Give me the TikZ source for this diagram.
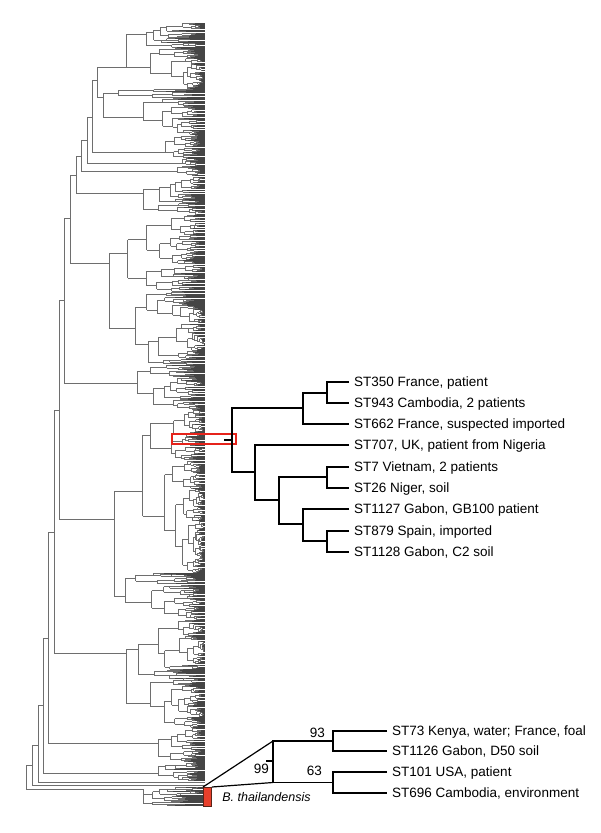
\documentclass[tikz,border=0pt]{standalone}
\usepackage{fontspec}
\setmainfont{Liberation Sans}
\usetikzlibrary{positioning, calc}
\definecolor{cgrey}{HTML}{6E6E6E}
\definecolor{cleaf}{HTML}{454545}
\definecolor{cred}{HTML}{E8402C}
\definecolor{credline}{HTML}{E5231B}
\definecolor{cdark}{HTML}{5A2418}
\tikzset{
  tree/.style={draw=cgrey, line width=0.8pt},
  leaf/.style={draw=cleaf, line width=0.8pt},
  branch/.style={draw=black, line width=1.4pt},
  leaflab/.style={anchor=west, inner xsep=5pt, inner ysep=0pt, text height=9.7pt, text depth=0pt, font=\fontsize{13.5}{16}\selectfont},
  boot/.style={inner sep=1pt, text height=9.7pt, text depth=0pt, font=\fontsize{13.5}{16}\selectfont},
  hbox/.style={draw=credline, line width=1.8pt, inner sep=0pt},
}
\def\leafx{205}
% random clade: x of node, y of stem, top and bottom of its leaves
\newcommand\clade[4]{%
  \begingroup
  \edef\kX{#1}\edef\kY{#2}\edef\kA{#3}\edef\kB{#4}%
  \pgfmathsetmacro\kL{\kB-\kA}%
  \ifdim\kL pt<2pt
    \draw[leaf] (\kX,\kY) -- (\leafx,\kY);
  \else
    \pgfmathsetmacro\kS{\kA+\kL*(0.12+0.76*rnd)}%
    \pgfmathsetmacro\kM{(\kA+\kS)/2}%
    \pgfmathsetmacro\kN{(\kS+\kB)/2}%
    \pgfmathsetmacro\kU{\kX+(\leafx-\kX)*(0.12+0.32*rnd)}%
    \pgfmathsetmacro\kV{\kX+(\leafx-\kX)*(0.12+0.32*rnd)}%
    \pgfmathsetmacro\kT{min(\kM,\kY)}%
    \pgfmathsetmacro\kW{max(\kN,\kY)}%
    \draw[tree] (\kX,\kT) -- (\kX,\kW);
    \draw[tree] (\kX,\kM) -- (\kU,\kM);
    \draw[tree] (\kX,\kN) -- (\kV,\kN);
    \clade{\kU}{\kM}{\kA}{\kS}%
    \clade{\kV}{\kN}{\kS}{\kB}%
  \fi
  \endgroup}

\begin{document}
\begin{tikzpicture}[x=1pt, y=-1pt]
  \useasboundingbox (0,0) rectangle (600,833);
  \pgfmathsetseed{12}

  % backbone of the big tree
  \foreach \ny/\ya/\yb/\nx in {67/67/97/97, 80/80/152/92, 117/117/163/87, 140/140/171/81,
      156/156/193/76, 175/175/263/70, 218/218/383/64, 300/300/519/59, 410/410/653/54,
      532/532/743/48, 638/638/773/43, 705/705/782/38, 745/745/785/32, 765/765/789/26}
    \draw[tree] (\nx,\ya) -- (\nx,\yb);
  \foreach \px/\qx/\sy in {92/97/80, 87/92/117, 81/87/140, 76/81/156, 70/76/175, 64/70/218,
      59/64/300, 54/59/410, 48/54/532, 43/48/638, 38/43/705, 32/38/745, 26/32/765}
    \draw[tree] (\px,\sy) -- (\qx,\sy);
  \draw[tree] (38,782) -- (\leafx,782);
  \draw[tree] (32,785) -- (\leafx,785);
  \foreach \px/\nx/\sy/\ya/\yb in {97/126/67/22/88, 97/103/97/88/135, 92/165/152/135/158,
      87/182/163/158/166, 81/177/171/166/176, 76/143/193/176/215, 70/109/263/215/365,
      64/137/383/365/410, 59/114/519/410/620, 54/126/653/620/728, 48/158/743/728/762,
      43/158/773/762/781, 26/143/789/787/806}
  {
    \draw[tree] (\px,\sy) -- (\nx,\sy);
    \clade{\nx}{\sy}{\ya}{\yb}
  }

  % highlighted clade
  \node[hbox, minimum width=64pt, minimum height=10pt] (hl) at (204,439) {};
  \coordinate (hstub) at (224,440);

  % expanded clade
  \node[leaflab] (l1) at (349,382) {ST350 France, patient};
  \node[leaflab] (l2) at (349,403) {ST943 Cambodia, 2 patients};
  \node[leaflab] (l3) at (349,424) {ST662 France, suspected imported};
  \node[leaflab] (l4) at (349,445) {ST707, UK, patient from Nigeria};
  \node[leaflab] (l5) at (349,467) {ST7 Vietnam, 2 patients};
  \node[leaflab] (l6) at (349,488) {ST26 Niger, soil};
  \node[leaflab] (l7) at (349,509) {ST1127 Gabon, GB100 patient};
  \node[leaflab] (l8) at (349,531) {ST879 Spain, imported};
  \node[leaflab] (l9) at (349,552) {ST1128 Gabon, C2 soil};
  \coordinate (nr) at (232,440);
  \coordinate (na) at (303,408);
  \coordinate (nb) at (327,393);
  \coordinate (nc) at (255,472);
  \coordinate (nd) at (279,500);
  \coordinate (ne) at (327,477);
  \coordinate (nf) at (303,524);
  \coordinate (ng) at (327,541);
  \draw[branch] (l1.west) -| (nb) |- (l2.west);
  \draw[branch] (nb) -| (na) |- (l3.west);
  \draw[branch] (l5.west) -| (ne) |- (l6.west);
  \draw[branch] (l8.west) -| (ng) |- (l9.west);
  \draw[branch] (l7.west) -| (nf) |- (ng);
  \draw[branch] (ne) -| (nd) |- (nf);
  \draw[branch] (l4.west) -| (nc) |- (nd);
  \draw[branch] (na) -| (nr) |- (nc);
  \draw[branch] (hstub) -- (nr);

  % B. thailandensis
  \node[draw=cdark, fill=cred, line width=0.8pt, minimum width=8pt, minimum height=19pt,
    inner sep=0pt, anchor=north west] (bth) at (203,787) {};
  \node[right=7pt of bth, font=\itshape\fontsize{12.5}{15}\selectfont] (bthlab) {B. thailandensis};
  \node[leaflab] (m1) at (387,731) {ST73 Kenya, water; France, foal};
  \node[leaflab] (m2) at (387,751) {ST1126 Gabon, D50 soil};
  \node[leaflab] (m3) at (387,772) {ST101 USA, patient};
  \node[leaflab] (m4) at (387,793) {ST696 Cambodia, environment};
  \coordinate (np) at (273,761);
  \coordinate (nq) at (333,741);
  \coordinate (ns) at (333,782.5);
  \coordinate (ptick) at (266,761);
  \draw[branch] (m1.west) -| (nq) |- (m2.west);
  \draw[branch] (m3.west) -| (ns) |- (m4.west);
  \draw[branch] (nq) -| (np) |- (ns);
  \draw[branch] (np) -- (ptick);
  \draw[branch, line width=1.2pt] (bth.north west) -- (np |- nq);
  \draw[branch, line width=1.2pt] (bth.north east) -- (np |- ns);
  \node[boot, anchor=south east] (b93) at ($(nq)+(-7,-2)$) {93};
  \node[boot, anchor=south east] (b63) at ($(ns)+(-10,-5.5)$) {63};
  \node[boot, anchor=north east] (b99) at ($(ptick)+(4,2)$) {99};
\end{tikzpicture}
\end{document}
